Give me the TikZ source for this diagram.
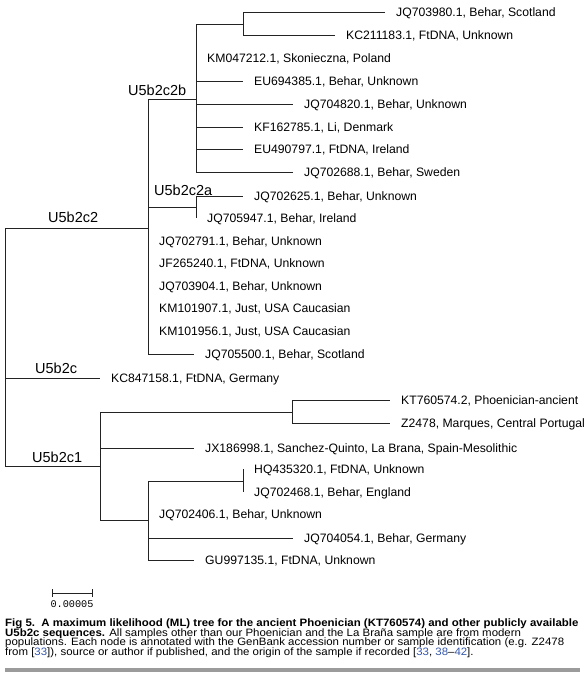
\documentclass[tikz,border=0pt]{standalone}
\usepackage{fontspec}
\setmainfont{Liberation Sans}
\newfontfamily\barfont{Liberation Mono}
\newfontfamily\capfont[FakeStretch=1.07]{Liberation Sans}
\usepackage{xcolor}
\usepackage{tikz}
\usetikzlibrary{positioning}
\definecolor{citeblue}{RGB}{52,86,170}
\definecolor{rulegray}{RGB}{155,155,155}
\definecolor{branchgray}{RGB}{35,35,35}

\begin{document}
\begin{tikzpicture}[x=1pt, y=-1pt,
    branch/.style={draw=branchgray, line width=0.9pt},
    leaf/.style={inner sep=0pt, text height=9.8pt, text depth=1pt, font=\fontsize{12.2}{14}\selectfont},
    clade/.style={inner sep=0pt, anchor=base west, font=\fontsize{14.5}{16}\selectfont},
    captionline/.style={inner sep=0pt, anchor=base west, font=\capfont\fontsize{10.7}{10}\selectfont}]
    \useasboundingbox (0,0) rectangle (585,678);

    % internal nodes
    \coordinate (root) at (5,347);
    \coordinate (c2) at (148,228);
    \coordinate (c2b) at (196,99);
    \coordinate (c2a) at (196,207);
    \coordinate (s1) at (243,24);
    \coordinate (c1) at (100,466);
    \coordinate (s2) at (292,412);
    \coordinate (s3) at (148,520);
    \coordinate (s4) at (243,481);
    \foreach \p/\c in {root/c2, root/c1, c2/c2b, c2/c2a, c2b/s1, c1/s2, c1/s3, s3/s4}
        \draw[branch] (\p) |- (\c);

    % leaves
    \foreach \p/\n/\x/\y/\t in {
        s1/l1/385/12/{JQ703980.1, Behar, Scotland},
        s1/l2/335/35/{KC211183.1, FtDNA, Unknown},
        c2b/l3/196/58/{KM047212.1, Skonieczna, Poland},
        c2b/l4/243/81/{EU694385.1, Behar, Unknown},
        c2b/l5/293/104/{JQ704820.1, Behar, Unknown},
        c2b/l6/243/127/{KF162785.1, Li, Denmark},
        c2b/l7/243/149/{EU490797.1, FtDNA, Ireland},
        c2b/l8/293/172/{JQ702688.1, Behar, Sweden},
        c2a/l9/243/196/{JQ702625.1, Behar, Unknown},
        c2a/l10/196/218/{JQ705947.1, Behar, Ireland},
        c2/l11/148/241/{JQ702791.1, Behar, Unknown},
        c2/l12/148/263/{JF265240.1, FtDNA, Unknown},
        c2/l13/148/286/{JQ703904.1, Behar, Unknown},
        c2/l14/148/308/{KM101907.1, Just, USA Caucasian},
        c2/l15/148/331/{KM101956.1, Just, USA Caucasian},
        c2/l16/194/354/{JQ705500.1, Behar, Scotland},
        root/l17/100/378/{KC847158.1, FtDNA, Germany},
        s2/l18/390/400/{KT760574.2, Phoenician-ancient},
        s2/l19/390/423/{Z2478, Marques, Central Portugal},
        c1/l20/194/448/{JX186998.1, Sanchez-Quinto, La Brana, Spain-Mesolithic},
        s4/l21/243/469/{HQ435320.1, FtDNA, Unknown},
        s4/l22/243/492/{JQ702468.1, Behar, England},
        s3/l23/148/514/{JQ702406.1, Behar, Unknown},
        s3/l24/293/538/{JQ704054.1, Behar, Germany},
        s3/l25/194/560/{GU997135.1, FtDNA, Unknown}} {
        \coordinate (\n) at (\x,\y);
        \draw[branch] (\p) |- (\n);
        \node[leaf, right=11pt of \n] (txt\n) {\t};
    }

    % clade names
    \node[clade] (nc2b) at (128,95) {U5b2c2b};
    \node[clade] (nc2a) at (154,195) {U5b2c2a};
    \node[clade] (nc2) at (48,222) {U5b2c2};
    \node[clade] (nc) at (35,373) {U5b2c};
    \node[clade] (nc1) at (32,462) {U5b2c1};

    % scale bar
    \coordinate (sba) at (52,593);
    \coordinate (sbb) at (92,593);
    \draw[branch] (sba) -- (sbb);
    \draw[branch] ([yshift=-4pt]sba) -- ([yshift=4pt]sba);
    \draw[branch] ([yshift=-4pt]sbb) -- ([yshift=4pt]sbb);
    \node[inner sep=0pt, anchor=base, font=\barfont\fontsize{10.2}{11}\selectfont] (sblabel) at (72,607) {0.00005};

    % caption
    \node[captionline, font=\capfont\bfseries\fontsize{10.7}{10}\selectfont] (cap1) at (5,626.5)
        {Fig 5.\ \ A maximum likelihood (ML) tree for the ancient Phoenician (KT760574) and other publicly available};
    \node[captionline] (cap2) at (5,636.2)
        {{\bfseries U5b2c sequences.} All samples other than our Phoenician and the La Braña sample are from modern};
    \node[captionline] (cap3) at (5,645.9)
        {populations. Each node is annotated with the GenBank accession number or sample identification (e.g. Z2478};
    \node[captionline] (cap4) at (5,655.6)
        {from [\textcolor{citeblue}{33}]), source or author if published, and the origin of the sample if recorded [\textcolor{citeblue}{33}, \textcolor{citeblue}{38}–\textcolor{citeblue}{42}].};
    \fill[rulegray] (5,668) rectangle (580,672);
\end{tikzpicture}
\end{document}
